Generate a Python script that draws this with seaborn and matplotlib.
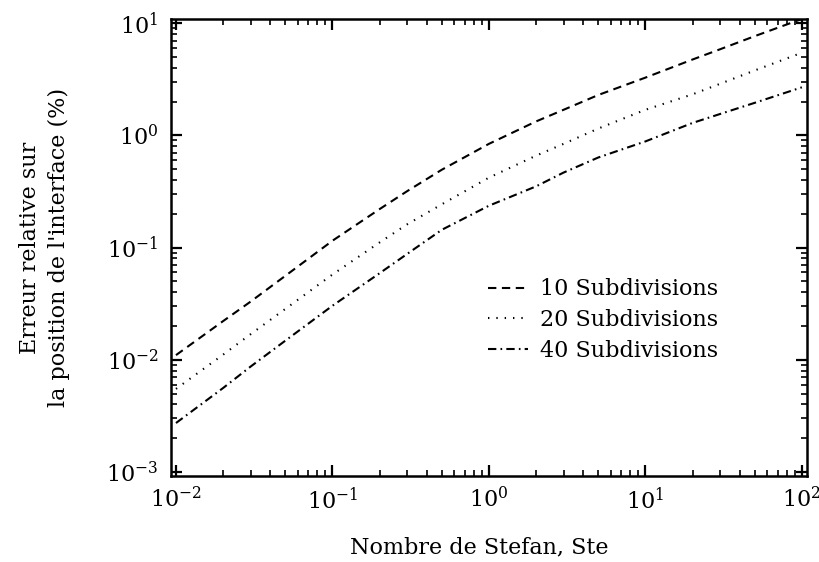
import numpy as np
import pandas as pd
import matplotlib
matplotlib.use("Agg")
import matplotlib.pyplot as plt
import seaborn as sns
from matplotlib.ticker import LogLocator, NullFormatter, LogFormatterMathtext

# Stefan numbers sampled along the x axis
ste = [0.01, 0.02, 0.03, 0.05, 0.1, 0.2, 0.3, 0.5,
       1.0, 2.0, 3.0, 5.0, 10.0, 20.0, 30.0, 50.0, 100.0]

# Relative error on interface position (%) for each mesh refinement
err_10 = [0.011, 0.0221, 0.033, 0.056, 0.115, 0.220, 0.318, 0.494,
          0.84, 1.33, 1.69, 2.29, 3.27, 4.74, 5.85, 7.66, 10.9]
err_20 = [0.0055, 0.0111, 0.0169, 0.0284, 0.0575, 0.111, 0.161, 0.243,
          0.42, 0.659, 0.84, 1.15, 1.69, 2.32, 2.88, 3.79, 5.45]
err_40 = [0.00273, 0.0056, 0.0087, 0.0148, 0.0303, 0.059, 0.0877, 0.144,
          0.236, 0.351, 0.466, 0.635, 0.883, 1.29, 1.55, 1.95, 2.68]

labels = ["10 Subdivisions", "20 Subdivisions", "40 Subdivisions"]

df = pd.concat([
    pd.DataFrame({"Ste": ste, "err": e, "serie": lab})
    for e, lab in zip([err_10, err_20, err_40], labels)
])

sns.set_theme(style="ticks")
plt.rcParams["font.family"] = ["DejaVu Serif"]
plt.rcParams["mathtext.fontset"] = "dejavuserif"
plt.rcParams["lines.scale_dashes"] = False
for key in ["text.color", "axes.labelcolor", "xtick.color", "ytick.color",
            "xtick.labelcolor", "ytick.labelcolor", "axes.edgecolor"]:
    plt.rcParams[key] = "black"

fig = plt.figure(figsize=(8.2, 5.62), dpi=100)
ax = fig.add_axes([0.2085, 0.153, 0.7755, 0.813])

dashes = {
    labels[0]: (6, 4),
    labels[1]: (1, 5),
    labels[2]: (6, 3, 1.2, 3),
}
sns.lineplot(data=df, x="Ste", y="err", style="serie", dashes=dashes,
             color="black", linewidth=1.5, ax=ax, legend=True)

ax.set_xscale("log")
ax.set_yscale("log")
ax.set_xlim(10 ** -2.032, 10 ** 2.032)
ax.set_ylim(10 ** -3.036, 10 ** 1.036)

ax.xaxis.set_major_locator(LogLocator(base=10, numticks=10))
ax.yaxis.set_major_locator(LogLocator(base=10, numticks=10))
ax.xaxis.set_minor_locator(LogLocator(base=10, subs=np.arange(2, 10), numticks=50))
ax.yaxis.set_minor_locator(LogLocator(base=10, subs=np.arange(2, 10), numticks=50))
ax.xaxis.set_minor_formatter(NullFormatter())
ax.yaxis.set_minor_formatter(NullFormatter())
ax.xaxis.set_major_formatter(LogFormatterMathtext())
ax.yaxis.set_major_formatter(LogFormatterMathtext())

ax.tick_params(which="both", direction="in", top=True, right=True,
               colors="black", labelsize=16)
ax.tick_params(which="major", length=8, width=1.6, pad=8)
ax.tick_params(axis="y", which="major", pad=9)
ax.tick_params(which="minor", length=4.5, width=1.2)
for s in ax.spines.values():
    s.set_linewidth(1.8)
    s.set_color("black")

ax.set_xlabel("Nombre de Stefan, Ste", fontsize=16)
ax.xaxis.set_label_coords(0.484, -0.133)
ax.set_ylabel("Erreur relative sur\nla position de l'interface (%)",
              fontsize=16, linespacing=1.45)
ax.yaxis.set_label_coords(-0.158, 0.5)

leg = ax.legend(title=None, frameon=False, fontsize=16,
                loc="center left", bbox_to_anchor=(0.467, 0.341),
                handlelength=1.8, handletextpad=0.55, labelspacing=0.4)
for h in leg.get_lines():
    h.set_color("black")
    h.set_linewidth(1.5)

fig.savefig("out.png", dpi=100)
